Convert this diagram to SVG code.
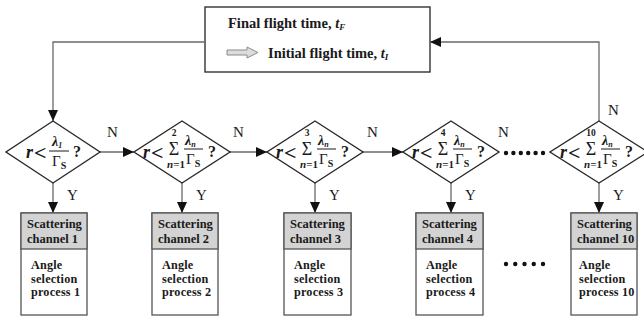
<svg xmlns="http://www.w3.org/2000/svg" width="644" height="322" viewBox="0 0 644 322">
<style>
text{font-family:"Liberation Serif","Times New Roman",serif;fill:#1a1a1a}
.b{font-weight:bold}
.i{font-style:italic;font-weight:bold}
.lbl{font-size:15px}
.dia{fill:#fff;stroke:#2a2a2a;stroke-width:1.4}
.con{fill:none;stroke:#6a6a6a;stroke-width:1.3}
.hdr{fill:#d3d3d3;stroke:#555;stroke-width:1.3}
.bod{fill:#fff;stroke:#555;stroke-width:1.3}
.bt{font-size:12.5px;font-weight:bold}
.bb{font-size:12.2px;font-weight:bold;letter-spacing:0.2px}
.frac{stroke:#1a1a1a;stroke-width:1}
.lt{font-size:22px;font-weight:bold}
.lim{font-size:9.5px;font-weight:bold}
</style>
<defs>
<marker id="ah" markerUnits="userSpaceOnUse" markerWidth="12" markerHeight="10" refX="11" refY="5" orient="auto">
<path d="M0,0 L11,5 L0,10 Z" fill="#111"/>
</marker>
</defs>

<g id="topbox">
<rect x="205" y="7" width="225" height="65" fill="#fff" stroke="#333" stroke-width="1.4"/>
<text x="228" y="28" class="b" font-size="14.5">Final flight time, <tspan class="i">t</tspan><tspan class="i" font-size="9" dy="2">F</tspan></text>
<polygon points="227,50 247,50 247,47 258,52.5 247,58 247,55 227,55" fill="#dcdcdc" stroke="#8a8a8a" stroke-width="1"/>
<text x="268" y="58" class="b" font-size="14.5">Initial flight time, <tspan class="i">t</tspan><tspan class="i" font-size="9" dy="2">I</tspan></text>
</g>

<g id="connectors">
<path class="con" d="M205,42 H53 V121" marker-end="url(#ah)"/>
<path class="con" d="M599,121 V42 H430" marker-end="url(#ah)"/>
<path class="con" d="M100,152 H134" marker-end="url(#ah)"/>
<path class="con" d="M230,152 H267" marker-end="url(#ah)"/>
<path class="con" d="M363,152 H403" marker-end="url(#ah)"/>
<path class="con" d="M53,183 V213" marker-end="url(#ah)"/>
<path class="con" d="M182,183 V213" marker-end="url(#ah)"/>
<path class="con" d="M315,183 V213" marker-end="url(#ah)"/>
<path class="con" d="M451,183 V213" marker-end="url(#ah)"/>
<path class="con" d="M599,183 V213" marker-end="url(#ah)"/>
<text x="107" y="137" class="lbl">N</text>
<text x="233" y="137" class="lbl">N</text>
<text x="367" y="137" class="lbl">N</text>
<text x="498" y="137" class="lbl">N</text>
<text x="608" y="115" class="lbl">N</text>
<text x="67" y="200" class="lbl">Y</text>
<text x="196" y="200" class="lbl">Y</text>
<text x="329" y="200" class="lbl">Y</text>
<text x="465" y="200" class="lbl">Y</text>
<text x="613" y="200" class="lbl">Y</text>
</g>

<g id="dots-decision" fill="#111">
<circle cx="506" cy="153" r="2.2"/><circle cx="513.4" cy="153" r="2.2"/><circle cx="520.8" cy="153" r="2.2"/><circle cx="528.2" cy="153" r="2.2"/><circle cx="535.6" cy="153" r="2.2"/><circle cx="543" cy="153" r="2.2"/>
</g>
<g id="dots-boxes" fill="#111">
<circle cx="506" cy="264" r="2.2"/><circle cx="515.25" cy="264" r="2.2"/><circle cx="524.5" cy="264" r="2.2"/><circle cx="533.75" cy="264" r="2.2"/><circle cx="543" cy="264" r="2.2"/>
</g>

<g id="d1" transform="translate(53,0)">
<polygon class="dia" points="0,121 47,152 0,183 -47,152"/>
<text x="-27" y="158" class="i" font-size="18">r</text>
<text x="-19" y="160" class="lt">&lt;</text>
<text x="-1" y="146" class="i" font-size="14">λ<tspan font-size="8" dy="2">1</tspan></text>
<line class="frac" x1="-4" y1="151" x2="16" y2="151"/>
<text x="-1" y="166" font-size="15">Γ<tspan class="b" font-size="10" dy="3">S</tspan></text>
<text x="20" y="157" class="b" font-size="16">?</text>
</g>

<g id="d2" transform="translate(182,0)">
<polygon class="dia" points="0,121 48,152 0,183 -48,152"/>
<text x="-39" y="158" class="i" font-size="18">r</text>
<text x="-31" y="160" class="lt">&lt;</text>
<text x="-8" y="136" class="lim" text-anchor="middle">2</text>
<text x="-8" y="155" font-size="18" text-anchor="middle">Σ</text>
<text x="-6" y="168" class="b" font-size="11" text-anchor="middle"><tspan class="i">n</tspan>=1</text>
<text x="3" y="145" class="i" font-size="14">λ<tspan font-size="8" dy="2">n</tspan></text>
<line class="frac" x1="2" y1="149" x2="21" y2="149"/>
<text x="4" y="164" font-size="15">Γ<tspan class="b" font-size="10" dy="3">S</tspan></text>
<text x="26" y="157" class="b" font-size="16">?</text>
</g>

<g id="d3" transform="translate(315,0)">
<polygon class="dia" points="0,121 48,152 0,183 -48,152"/>
<text x="-39" y="158" class="i" font-size="18">r</text>
<text x="-31" y="160" class="lt">&lt;</text>
<text x="-8" y="136" class="lim" text-anchor="middle">3</text>
<text x="-8" y="155" font-size="18" text-anchor="middle">Σ</text>
<text x="-6" y="168" class="b" font-size="11" text-anchor="middle"><tspan class="i">n</tspan>=1</text>
<text x="3" y="145" class="i" font-size="14">λ<tspan font-size="8" dy="2">n</tspan></text>
<line class="frac" x1="2" y1="149" x2="21" y2="149"/>
<text x="4" y="164" font-size="15">Γ<tspan class="b" font-size="10" dy="3">S</tspan></text>
<text x="26" y="157" class="b" font-size="16">?</text>
</g>

<g id="d4" transform="translate(451,0)">
<polygon class="dia" points="0,121 48,152 0,183 -48,152"/>
<text x="-39" y="158" class="i" font-size="18">r</text>
<text x="-31" y="160" class="lt">&lt;</text>
<text x="-8" y="136" class="lim" text-anchor="middle">4</text>
<text x="-8" y="155" font-size="18" text-anchor="middle">Σ</text>
<text x="-6" y="168" class="b" font-size="11" text-anchor="middle"><tspan class="i">n</tspan>=1</text>
<text x="3" y="145" class="i" font-size="14">λ<tspan font-size="8" dy="2">n</tspan></text>
<line class="frac" x1="2" y1="149" x2="21" y2="149"/>
<text x="4" y="164" font-size="15">Γ<tspan class="b" font-size="10" dy="3">S</tspan></text>
<text x="26" y="157" class="b" font-size="16">?</text>
</g>

<g id="d10" transform="translate(599,0)">
<polygon class="dia" points="0,121 49,152 0,183 -49,152"/>
<text x="-39" y="158" class="i" font-size="18">r</text>
<text x="-31" y="160" class="lt">&lt;</text>
<text x="-8" y="136" class="lim" text-anchor="middle">10</text>
<text x="-8" y="155" font-size="18" text-anchor="middle">Σ</text>
<text x="-6" y="168" class="b" font-size="11" text-anchor="middle"><tspan class="i">n</tspan>=1</text>
<text x="3" y="145" class="i" font-size="14">λ<tspan font-size="8" dy="2">n</tspan></text>
<line class="frac" x1="2" y1="149" x2="21" y2="149"/>
<text x="4" y="164" font-size="15">Γ<tspan class="b" font-size="10" dy="3">S</tspan></text>
<text x="26" y="157" class="b" font-size="16">?</text>
</g>

<g id="box1" transform="translate(21,0)">
<rect class="bod" x="0" y="213" width="66" height="102"/>
<rect class="hdr" x="0" y="213" width="66" height="36"/>
<text x="6" y="228" class="bt">Scattering</text>
<text x="6" y="243" class="bt">channel  1</text>
<text x="10" y="269" class="bb">Angle</text>
<text x="10" y="282.5" class="bb">selection</text>
<text x="10" y="296" class="bb">process 1</text>
</g>
<g id="box2" transform="translate(152,0)">
<rect class="bod" x="0" y="213" width="66" height="102"/>
<rect class="hdr" x="0" y="213" width="66" height="36"/>
<text x="6" y="228" class="bt">Scattering</text>
<text x="6" y="243" class="bt">channel  2</text>
<text x="10" y="269" class="bb">Angle</text>
<text x="10" y="282.5" class="bb">selection</text>
<text x="10" y="296" class="bb">process 2</text>
</g>
<g id="box3" transform="translate(284,0)">
<rect class="bod" x="0" y="213" width="67" height="102"/>
<rect class="hdr" x="0" y="213" width="67" height="36"/>
<text x="6" y="228" class="bt">Scattering</text>
<text x="6" y="243" class="bt">channel  3</text>
<text x="10" y="269" class="bb">Angle</text>
<text x="10" y="282.5" class="bb">selection</text>
<text x="10" y="296" class="bb">process 3</text>
</g>
<g id="box4" transform="translate(416,0)">
<rect class="bod" x="0" y="213" width="67" height="102"/>
<rect class="hdr" x="0" y="213" width="67" height="36"/>
<text x="6" y="228" class="bt">Scattering</text>
<text x="6" y="243" class="bt">channel  4</text>
<text x="10" y="269" class="bb">Angle</text>
<text x="10" y="282.5" class="bb">selection</text>
<text x="10" y="296" class="bb">process 4</text>
</g>
<g id="box10" transform="translate(571,0)">
<rect class="bod" x="0" y="213" width="66" height="102"/>
<rect class="hdr" x="0" y="213" width="66" height="36"/>
<text x="6" y="228" class="bt">Scattering</text>
<text x="6" y="243" class="bt">channel 10</text>
<text x="8" y="269" class="bb">Angle</text>
<text x="8" y="282.5" class="bb">selection</text>
<text x="8" y="296" class="bb">process 10</text>
</g>
</svg>
